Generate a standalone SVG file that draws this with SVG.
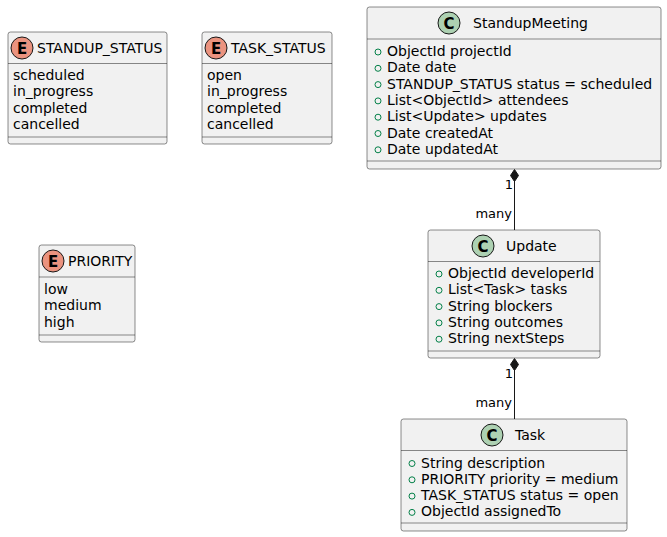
<svg xmlns="http://www.w3.org/2000/svg" width="667" height="537" viewBox="0 0 667 537">
<style>
.box{fill:#F1F1F1;stroke:#181818;stroke-width:0.5}
.sep{stroke:#181818;stroke-width:0.5}
.t{font-family:"DejaVu Sans",sans-serif;font-size:14px;fill:#000}
.lbl{font-family:"DejaVu Sans",sans-serif;font-size:13px;fill:#000}
.ce{fill:#EB937F;stroke:#181818;stroke-width:1}
.cc{fill:#ADD1B2;stroke:#181818;stroke-width:1}
.ct{font-family:"DejaVu Sans",sans-serif;font-size:15px;font-weight:bold;fill:#000;text-anchor:middle}
.vis{fill:none;stroke:#038048;stroke-width:1}
.edge{stroke:#181818;stroke-width:1;fill:none}
.dia{fill:#181818;stroke:#181818;stroke-width:1}
</style>
<g id="STANDUP_STATUS">
<rect class="box" x="8" y="32" width="159" height="112" rx="2.5"/>
<circle class="ce" cx="22" cy="48" r="11"/>
<text class="ct" x="22" y="53.5">E</text>
<text class="t" x="37" y="53">STANDUP_STATUS</text>
<line class="sep" x1="8" y1="63.5" x2="167" y2="63.5"/>
<text class="t" x="13" y="80">scheduled</text>
<text class="t" x="13" y="96.3">in_progress</text>
<text class="t" x="13" y="112.6">completed</text>
<text class="t" x="13" y="128.9">cancelled</text>
<line class="sep" x1="8" y1="137" x2="167" y2="137"/>
</g>
<g id="TASK_STATUS">
<rect class="box" x="202" y="32" width="130" height="112" rx="2.5"/>
<circle class="ce" cx="216" cy="48" r="11"/>
<text class="ct" x="216" y="53.5">E</text>
<text class="t" x="231" y="53">TASK_STATUS</text>
<line class="sep" x1="202" y1="63.5" x2="332" y2="63.5"/>
<text class="t" x="207" y="80">open</text>
<text class="t" x="207" y="96.3">in_progress</text>
<text class="t" x="207" y="112.6">completed</text>
<text class="t" x="207" y="128.9">cancelled</text>
<line class="sep" x1="202" y1="137" x2="332" y2="137"/>
</g>
<g id="PRIORITY">
<rect class="box" x="39" y="245" width="96" height="97" rx="2.5"/>
<circle class="ce" cx="53" cy="261" r="11"/>
<text class="ct" x="53" y="266.5">E</text>
<text class="t" x="68" y="266">PRIORITY</text>
<line class="sep" x1="39" y1="277" x2="135" y2="277"/>
<text class="t" x="44" y="294">low</text>
<text class="t" x="44" y="310.3">medium</text>
<text class="t" x="44" y="326.6">high</text>
<line class="sep" x1="39" y1="335" x2="135" y2="335"/>
</g>
<g id="StandupMeeting">
<rect class="box" x="367" y="7" width="294" height="162" rx="2.5"/>
<circle class="cc" cx="449" cy="23" r="11"/>
<text class="ct" x="449" y="28.5">C</text>
<text class="t" x="473" y="28">StandupMeeting</text>
<line class="sep" x1="367" y1="39" x2="661" y2="39"/>
<circle class="vis" cx="378" cy="52" r="3"/>
<text class="t" x="387" y="56">ObjectId projectId</text>
<circle class="vis" cx="378" cy="68.3" r="3"/>
<text class="t" x="387" y="72.3">Date date</text>
<circle class="vis" cx="378" cy="84.6" r="3"/>
<text class="t" x="387" y="88.6">STANDUP_STATUS status = scheduled</text>
<circle class="vis" cx="378" cy="100.9" r="3"/>
<text class="t" x="387" y="104.9">List&lt;ObjectId&gt; attendees</text>
<circle class="vis" cx="378" cy="117.2" r="3"/>
<text class="t" x="387" y="121.2">List&lt;Update&gt; updates</text>
<circle class="vis" cx="378" cy="133.5" r="3"/>
<text class="t" x="387" y="137.5">Date createdAt</text>
<circle class="vis" cx="378" cy="149.8" r="3"/>
<text class="t" x="387" y="153.8">Date updatedAt</text>
<line class="sep" x1="367" y1="161" x2="661" y2="161"/>
</g>
<g id="Update">
<rect class="box" x="428" y="230" width="172" height="128" rx="2.5"/>
<circle class="cc" cx="483" cy="246" r="11"/>
<text class="ct" x="483" y="251.5">C</text>
<text class="t" x="506" y="251">Update</text>
<line class="sep" x1="428" y1="261.5" x2="600" y2="261.5"/>
<circle class="vis" cx="439" cy="274" r="3"/>
<text class="t" x="448" y="278">ObjectId developerId</text>
<circle class="vis" cx="439" cy="290.3" r="3"/>
<text class="t" x="448" y="294.3">List&lt;Task&gt; tasks</text>
<circle class="vis" cx="439" cy="306.6" r="3"/>
<text class="t" x="448" y="310.6">String blockers</text>
<circle class="vis" cx="439" cy="322.9" r="3"/>
<text class="t" x="448" y="326.9">String outcomes</text>
<circle class="vis" cx="439" cy="339.2" r="3"/>
<text class="t" x="448" y="343.2">String nextSteps</text>
<line class="sep" x1="428" y1="351" x2="600" y2="351"/>
</g>
<g id="Task">
<rect class="box" x="401" y="419" width="226" height="112" rx="2.5"/>
<circle class="cc" cx="492" cy="435" r="11"/>
<text class="ct" x="492" y="440.5">C</text>
<text class="t" x="515" y="440">Task</text>
<line class="sep" x1="401" y1="450.5" x2="627" y2="450.5"/>
<circle class="vis" cx="412" cy="463.5" r="3"/>
<text class="t" x="421" y="467.5">String description</text>
<circle class="vis" cx="412" cy="479.8" r="3"/>
<text class="t" x="421" y="483.8">PRIORITY priority = medium</text>
<circle class="vis" cx="412" cy="496.1" r="3"/>
<text class="t" x="421" y="500.1">TASK_STATUS status = open</text>
<circle class="vis" cx="412" cy="512.4" r="3"/>
<text class="t" x="421" y="516.4">ObjectId assignedTo</text>
<line class="sep" x1="401" y1="523" x2="627" y2="523"/>
</g>
<g id="connectors">
<line class="edge" x1="514.5" y1="181" x2="514.5" y2="230"/>
<polygon class="dia" points="514.5,169.5 518.5,175.5 514.5,181.5 510.5,175.5"/>
<text class="lbl" x="513" y="189" text-anchor="end">1</text>
<text class="lbl" x="512" y="218" text-anchor="end">many</text>
<line class="edge" x1="514.5" y1="370" x2="514.5" y2="419"/>
<polygon class="dia" points="514.5,358.5 518.5,364.5 514.5,370.5 510.5,364.5"/>
<text class="lbl" x="513" y="378" text-anchor="end">1</text>
<text class="lbl" x="512" y="407" text-anchor="end">many</text>
</g>
</svg>
